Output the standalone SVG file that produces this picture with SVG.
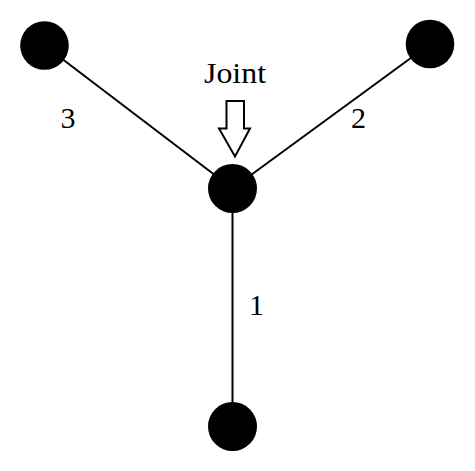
<svg xmlns="http://www.w3.org/2000/svg" width="475" height="471" viewBox="0 0 475 471">
<style>
.edge{stroke:#000;stroke-width:2;fill:none}
.node{fill:#000}
.lbl{font-family:"Liberation Serif","Times New Roman",serif;font-size:30px;fill:#000}
</style>
<rect width="475" height="471" fill="#fff"/>
<g id="connectors">
<line class="edge" x1="44.5" y1="45.5" x2="232.5" y2="188.5"/>
<line class="edge" x1="430" y1="44" x2="232.5" y2="188.5"/>
<line class="edge" x1="232.5" y1="188.5" x2="232.5" y2="426.5"/>
</g>
<g id="node-left"><circle class="node" cx="44.5" cy="45.5" r="24.3"/></g>
<g id="node-right"><circle class="node" cx="430" cy="44" r="24.3"/></g>
<g id="node-joint"><circle class="node" cx="232.5" cy="188.5" r="24.5"/></g>
<g id="node-bottom"><circle class="node" cx="232.5" cy="426.5" r="24.5"/></g>
<g id="joint-label">
<text class="lbl" x="235" y="83" text-anchor="middle" textLength="62" lengthAdjust="spacingAndGlyphs">Joint</text>
<polygon points="226.5,101 244,101 244,128.5 250,128.5 235,156.5 219,128.5 226.5,128.5" fill="#fff" stroke="#000" stroke-width="2" stroke-linejoin="miter"/>
</g>
<g id="edge-labels">
<text class="lbl" x="68" y="128" text-anchor="middle">3</text>
<text class="lbl" x="358.5" y="128" text-anchor="middle">2</text>
<text class="lbl" x="256.5" y="315" text-anchor="middle">1</text>
</g>
</svg>
